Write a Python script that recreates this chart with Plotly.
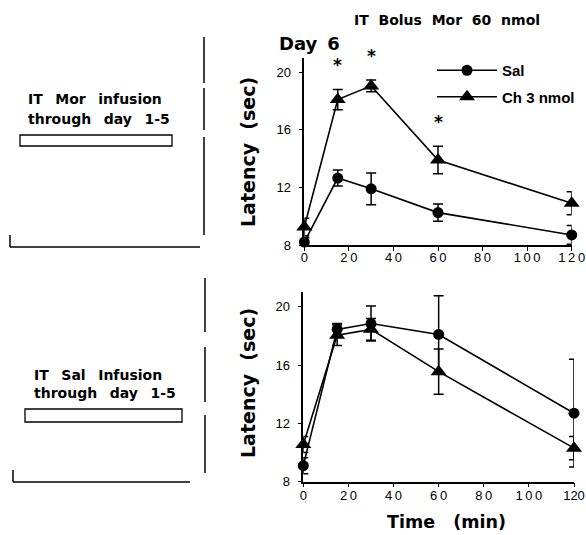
import plotly.graph_objects as go

# ---------------- data ----------------
time_min = [0, 15, 30, 60, 120]

# Top panel: IT Mor infusion days 1-5, Day 6 bolus Mor 60 nmol
top_sal = [8.2, 12.65, 11.9, 10.25, 8.7]
top_sal_err = [0.3, 0.55, 1.1, 0.6, 0.65]
top_ch = [9.25, 18.1, 19.05, 13.9, 10.9]
top_ch_err = [0.6, 0.7, 0.4, 0.95, 0.8]
sig_times = [15, 30, 60]

# Bottom panel: IT Sal infusion days 1-5
bot_sal = [9.1, 18.45, 18.85, 18.1, 12.7]
bot_sal_err = [0.55, 0.4, 1.2, 2.65, 3.7]
bot_ch = [10.55, 18.05, 18.45, 15.55, 10.3]
bot_ch_err = [0.55, 0.7, 0.75, 1.55, 0.8]

series_names = ["<b>Sal</b>", "<b>Ch 3 nmol</b>"]
x_ticks = [0, 20, 40, 60, 80, 100, 120]
y_ticks = [8, 12, 16, 20]

# ---------------- layout helpers ----------------
W, H = 586, 535
FONT = "Liberation Sans, Arial, sans-serif"
BFONT = "DejaVu Sans, sans-serif"
NB = "\u00a0"
TH = "\u2009"


def px(x):
    return x / W


def py(y):
    return 1 - y / H


fig = go.Figure()
BLACK = "black"


def add_series(y, err, symbol, size, name, xa, ya, show, group):
    fig.add_trace(go.Scatter(
        x=time_min, y=y, mode="lines+markers", name=name,
        xaxis=xa, yaxis=ya, showlegend=show, cliponaxis=False,
        legendgroup=group,
        line=dict(color=BLACK, width=1.6),
        marker=dict(symbol=symbol, size=size, color=BLACK),
        error_y=dict(type="data", array=err, visible=True,
                     color=BLACK, thickness=1.5, width=5),
    ))


add_series(top_sal, top_sal_err, "circle", 11, series_names[0], "x", "y", True, "sal")
add_series(top_ch, top_ch_err, "triangle-up", 14, series_names[1], "x", "y", True, "ch")
add_series(bot_sal, bot_sal_err, "circle", 11, series_names[0], "x2", "y2", False, "sal")
add_series(bot_ch, bot_ch_err, "triangle-up", 14, series_names[1], "x2", "y2", False, "ch")

axis_common = dict(
    showgrid=False, zeroline=False, showline=True, linecolor=BLACK, linewidth=1.5,
    ticks="outside", ticklen=4, tickwidth=1.2, tickcolor=BLACK,
    tickfont=dict(family=FONT, size=13, color=BLACK), automargin=False,
    ticklabeloverflow="allow",
)
x_ticktext = [TH.join(str(v)) for v in x_ticks]
# last bottom label kept compact so it stays inside the page edge
x2_ticktext = x_ticktext[:-1] + [str(x_ticks[-1])]

fig.update_layout(
    width=W, height=H, autosize=False,
    margin=dict(l=0, r=0, t=0, b=0, pad=0),
    paper_bgcolor="white", plot_bgcolor="white",
    xaxis=dict(domain=[px(304.3), px(571.7)], range=[0, 120], tickvals=x_ticks,
               ticktext=x_ticktext, ticklabelstandoff=-4,
               anchor="y", **axis_common),
    yaxis=dict(domain=[py(245), py(57.8)], range=[8, 21], tickvals=y_ticks,
               ticklabelstandoff=5, anchor="x", **axis_common),
    xaxis2=dict(domain=[px(303.3), px(574)], range=[0, 120], tickvals=x_ticks,
                ticktext=x2_ticktext, ticklabelstandoff=-3,
                anchor="y2", **axis_common),
    yaxis2=dict(domain=[py(481.7), py(292.2)], range=[8, 21], tickvals=y_ticks,
                ticklabelstandoff=5, anchor="x2", **axis_common),
    legend=dict(x=px(432), y=py(54), xanchor="left", yanchor="top",
                bgcolor="rgba(0,0,0,0)", tracegroupgap=4, itemwidth=60,
                traceorder="grouped",
                font=dict(family=FONT, size=15, color=BLACK)),
    showlegend=True,
)

ann = []
# asterisks above Ch error bars at significant time points
for t in sig_times:
    i = time_min.index(t)
    ann.append(dict(x=t, y=top_ch[i] + top_ch_err[i], xref="x", yref="y",
                    text="<b>*</b>", showarrow=False, yshift=24,
                    font=dict(family=BFONT, size=17, color=BLACK)))


def txt(x, y, s, size, xanchor="left", angle=0):
    ann.append(dict(x=px(x), y=py(y), xref="paper", yref="paper", text=s,
                    showarrow=False, xanchor=xanchor, yanchor="middle",
                    textangle=angle,
                    font=dict(family=BFONT, size=size, color=BLACK)))


G2 = NB * 2
G2T = NB * 2 + TH
txt(447, 20, "<b>IT" + G2 + "Bolus" + G2 + "Mor" + G2 + "60" + G2 + "nmol</b>", 14, "center")
txt(277, 44, "<b>Day" + NB + TH + "6</b>", 18)
txt(248, 152, "<b>Latency" + G2 + "(sec)</b>", 19, "center", -90)
txt(248, 383, "<b>Latency" + G2 + "(sec)</b>", 19, "center", -90)
txt(446, 522, "<b>Time" + NB * 3 + "(min)</b>", 17.5, "center")
txt(26, 99, "<b>IT" + G2T + "Mor" + G2T + "infusion</b>", 14)
txt(26, 119, "<b>through" + G2T + "day" + G2T + "1-5</b>", 14)
txt(32, 375, "<b>IT" + G2T + "Sal" + G2T + "Infusion</b>", 14)
txt(32, 393, "<b>through" + G2T + "day" + G2T + "1-5</b>", 14)
fig.update_layout(annotations=ann)

shapes = []


def line(x0, y0, x1, y1):
    shapes.append(dict(type="line", xref="paper", yref="paper",
                       x0=px(x0), y0=py(y0), x1=px(x1), y1=py(y1),
                       line=dict(color=BLACK, width=1.5)))


def rect(x0, y0, x1, y1):
    shapes.append(dict(type="rect", xref="paper", yref="paper",
                       x0=px(x0), y0=py(y0), x1=px(x1), y1=py(y1),
                       line=dict(color=BLACK, width=1.3), fillcolor="white"))


# top-left decoration
line(204, 37, 204, 83)
line(204, 88, 204, 130)
line(204, 137, 204, 235)
line(10, 247, 200, 247)
line(10, 235, 10, 247)
rect(20, 135, 172, 146)
# bottom-left decoration
line(205, 278, 205, 332)
line(205, 347, 205, 402)
line(205, 415, 205, 473)
line(13, 482, 190, 482)
line(13, 470, 13, 482)
rect(25, 409, 182, 422)
fig.update_layout(shapes=shapes)

# place the figure flush at the page origin (no default body margin / scrolling)
page_css = (
    "document.documentElement.style.margin='0';"
    "document.documentElement.style.overflow='hidden';"
    "document.body.style.margin='0';"
    "document.body.style.overflow='hidden';"
)
fig.write_html("out.html", post_script=page_css, config={"displayModeBar": False})
